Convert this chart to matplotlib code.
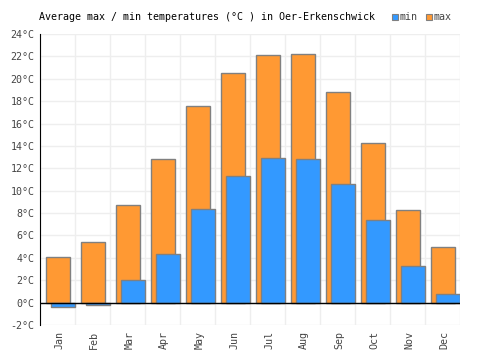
import matplotlib
matplotlib.use('Agg')
import matplotlib.pyplot as plt
from matplotlib.patches import Rectangle
import numpy as np

months = ['Jan', 'Feb', 'Mar', 'Apr', 'May', 'Jun', 'Jul', 'Aug', 'Sep', 'Oct', 'Nov', 'Dec']
max_temp = [4.1, 5.4, 8.7, 12.8, 17.6, 20.5, 22.1, 22.2, 18.8, 14.3, 8.3, 5.0]
min_temp = [-0.4, -0.2, 2.0, 4.3, 8.4, 11.3, 12.9, 12.8, 10.6, 7.4, 3.3, 0.8]
yticks = list(range(-2, 25, 2))

orange = '#ff9933'
blue = '#3399ff'
edge = '#808080'
mono = 'DejaVu Sans Mono'

fig = plt.figure(figsize=(5, 3.5), dpi=100)
ax = fig.add_axes([0.08, 0.0714, 0.84, 0.8315])

x = np.arange(len(months))
ax.bar(x + 0.18, max_temp, width=0.67, align='edge', color=orange, edgecolor=edge, linewidth=1, zorder=2)
ax.bar(x + 0.31, min_temp, width=0.69, align='edge', color=blue, edgecolor=edge, linewidth=1, zorder=3)

ax.set_xlim(0, 12)
ax.set_ylim(-2, 24)
ax.set_yticks(yticks)
ax.set_yticklabels([f'{v}°C' for v in yticks], family=mono, fontsize=7.2, color='#444444')
ax.set_xticks(x + 0.55)
ax.set_xticklabels(months, rotation=90, family=mono, fontsize=7.2, color='#444444')
ax.set_xticks(np.arange(0, 13), minor=True)
ax.tick_params(axis='both', which='both', length=0, pad=4)
ax.grid(True, which='minor', axis='x', color='#eeeeee', linewidth=1, zorder=0)
ax.grid(True, which='major', axis='y', color='#eeeeee', linewidth=1, zorder=0)
ax.set_axisbelow(True)
for s in ['top', 'right', 'bottom']:
    ax.spines[s].set_visible(False)
ax.spines['left'].set_color('black')
ax.axhline(0, color='black', linewidth=1, zorder=4)

fig.text(0.078, 1 - 17 / 350, 'Average max / min temperatures (°C ) in Oer-Erkenschwick',
         family=mono, fontsize=7.2, va='center', ha='left')
# legend
for px, col, lab in [(392, blue, 'min'), (426, orange, 'max')]:
    fig.patches.append(Rectangle((px / 500, 1 - 20 / 350), 6 / 500, 6 / 350, transform=fig.transFigure,
                                 facecolor=col, edgecolor=edge, linewidth=0.8))
    fig.text((px + 8) / 500, 1 - 17 / 350, lab, family=mono, fontsize=7.2, va='center', ha='left', color='#444444')

fig.savefig('out.png', dpi=100)
